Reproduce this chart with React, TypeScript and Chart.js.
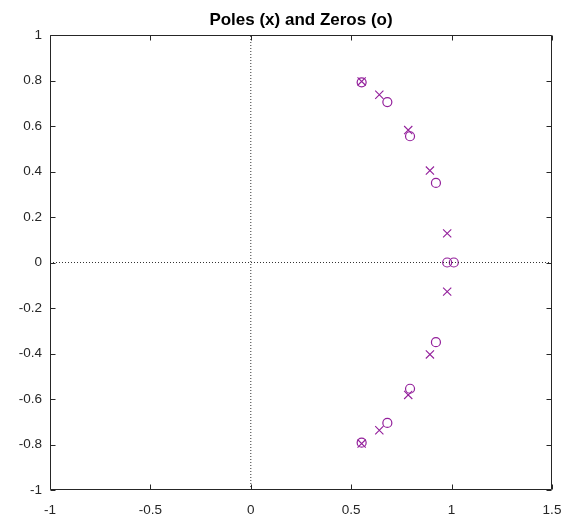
import React, { useEffect, useRef } from "react";
import { Chart, registerables } from "chart.js";

Chart.register(...registerables);

// Zeros (o)
const zerosX = [0.552, 0.68, 0.793, 0.922, 0.978, 1.011, 0.922, 0.793, 0.68, 0.552];
const zerosY = [0.792, 0.705, 0.555, 0.35, 0, 0, -0.35, -0.555, -0.705, -0.792];
// Poles (x)
const polesX = [0.552, 0.64, 0.784, 0.892, 0.978, 0.978, 0.892, 0.784, 0.64, 0.552];
const polesY = [0.796, 0.737, 0.582, 0.404, 0.128, -0.128, -0.404, -0.582, -0.737, -0.796];

const xTicks = [-1, -0.5, 0, 0.5, 1, 1.5];
const xTickLabels = ["-1", "-0.5", "0", "0.5", "1", "1.5"];
const yTicks = [-1, -0.8, -0.6, -0.4, -0.2, 0, 0.2, 0.4, 0.6, 0.8, 1];
const yTickLabels = ["-1", "-0.8", "-0.6", "-0.4", "-0.2", "0", "0.2", "0.4", "0.6", "0.8", "1"];

const titleText = "Poles (x) and Zeros (o)";
const markColor = "#931f9b";
const axisColor = "#262626";
const fontFamily = "'Liberation Sans', Arial, Helvetica, sans-serif";

const boxTicks = {
  id: "boxTicks",
  afterDatasetsDraw(chart: any) {
    const { ctx, chartArea, scales } = chart;
    const l = Math.round(chartArea.left) + 0.5;
    const r = Math.round(chartArea.right) - 0.5;
    const t = Math.round(chartArea.top) + 0.5;
    const b = Math.round(chartArea.bottom) - 0.5;
    const len = 5;
    ctx.save();
    ctx.strokeStyle = axisColor;
    ctx.lineWidth = 1;
    ctx.beginPath();
    ctx.rect(l, t, r - l, b - t);
    xTicks.forEach((v) => {
      const px = Math.round(scales.x.getPixelForValue(v)) + 0.5;
      ctx.moveTo(px, b);
      ctx.lineTo(px, b - len);
      ctx.moveTo(px, t);
      ctx.lineTo(px, t + len);
    });
    yTicks.forEach((v) => {
      const py = Math.round(scales.y.getPixelForValue(v)) + 0.5;
      ctx.moveTo(l, py);
      ctx.lineTo(l + len, py);
      ctx.moveTo(r, py);
      ctx.lineTo(r - len, py);
    });
    ctx.stroke();
    ctx.restore();
  },
};

export default function App() {
  const canvasRef = useRef<HTMLCanvasElement | null>(null);

  useEffect(() => {
    document.body.style.margin = "0";
    const canvas = canvasRef.current;
    if (!canvas) return;
    const zeros = zerosX.map((x, i) => ({ x, y: zerosY[i] }));
    const poles = polesX.map((x, i) => ({ x, y: polesY[i] }));
    const chart = new Chart(canvas, {
      type: "scatter",
      data: {
        datasets: [
          {
            type: "line",
            label: "hline",
            data: [
              { x: -1, y: 0 },
              { x: 1.5, y: 0 },
            ],
            borderColor: "#333333",
            borderWidth: 1,
            borderDash: [1, 2],
            pointRadius: 0,
            fill: false,
          } as any,
          {
            type: "line",
            label: "vline",
            data: [
              { x: 0, y: -1 },
              { x: 0, y: 1 },
            ],
            borderColor: "#333333",
            borderWidth: 1,
            borderDash: [1, 2],
            pointRadius: 0,
            fill: false,
          } as any,
          {
            label: "Zeros",
            data: zeros,
            pointStyle: "circle",
            pointRadius: 4.5,
            borderColor: markColor,
            backgroundColor: "rgba(0,0,0,0)",
            borderWidth: 1.2,
          },
          {
            label: "Poles",
            data: poles,
            pointStyle: "crossRot",
            pointRadius: 5.8,
            borderColor: markColor,
            backgroundColor: markColor,
            borderWidth: 1.1,
          },
        ],
      },
      options: {
        animation: false,
        responsive: true,
        maintainAspectRatio: false,
        layout: { padding: { left: 0, right: 22, top: 0, bottom: 0 } },
        plugins: {
          legend: { display: false },
          tooltip: { enabled: false },
          title: {
            display: true,
            text: titleText,
            fullSize: false,
            color: "#000000",
            font: { family: fontFamily, size: 17, weight: "bold" },
            padding: { top: 10, bottom: 4.6 },
          },
        },
        scales: {
          x: {
            type: "linear",
            min: -1,
            max: 1.5,
            grid: { display: false, drawTicks: false },
            border: { display: false },
            afterBuildTicks: (scale: any) => {
              scale.ticks = xTicks.map((v) => ({ value: v }));
            },
            afterFit: (scale: any) => {
              scale.height = 31;
            },
            ticks: {
              padding: 12,
              color: axisColor,
              font: { family: fontFamily, size: 13.5 },
              maxRotation: 0,
              autoSkip: false,
              callback: (v: any) => {
                const i = xTicks.findIndex((t) => Math.abs(t - Number(v)) < 1e-9);
                return i >= 0 ? xTickLabels[i] : "";
              },
            },
          },
          y: {
            type: "linear",
            min: -1,
            max: 1,
            grid: { display: false, drawTicks: false },
            border: { display: false },
            afterBuildTicks: (scale: any) => {
              scale.ticks = yTicks.map((v) => ({ value: v }));
            },
            afterFit: (scale: any) => {
              scale.width = 50;
            },
            ticks: {
              padding: 8,
              color: axisColor,
              font: { family: fontFamily, size: 13.5 },
              autoSkip: false,
              callback: (v: any) => {
                const i = yTicks.findIndex((t) => Math.abs(t - Number(v)) < 1e-9);
                return i >= 0 ? yTickLabels[i] : "";
              },
            },
          },
        },
      },
      plugins: [boxTicks],
    });
    return () => chart.destroy();
  }, []);

  return (
    <div style={{ width: 574, height: 521, position: "relative", background: "#ffffff" }}>
      <canvas ref={canvasRef} />
    </div>
  );
}
